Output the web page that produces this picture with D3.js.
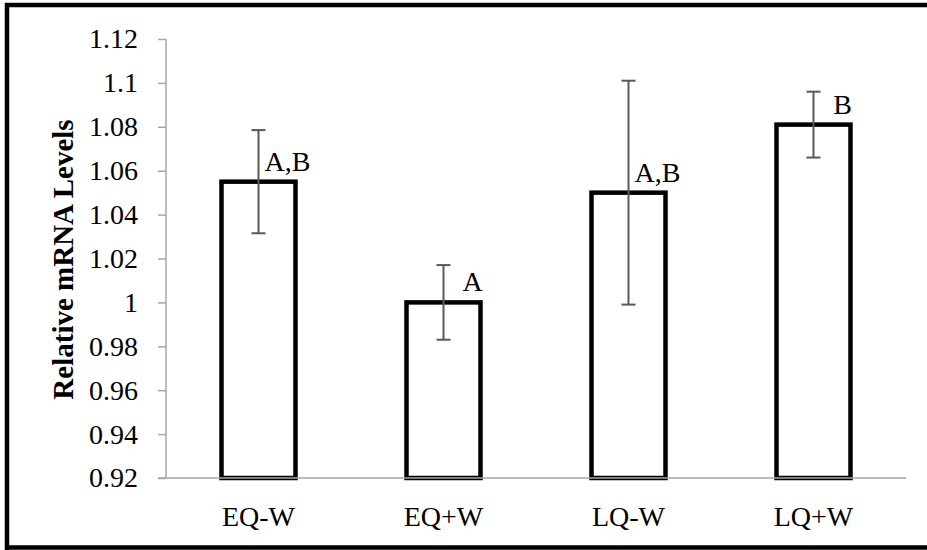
<!DOCTYPE html>
<html>
<head>
<meta charset="utf-8">
<script src="https://cdn.jsdelivr.net/npm/d3@7"></script>
<style>
  html, body { margin: 0; padding: 0; background: #fff; }
  svg { display: block; font-family: "Liberation Serif", "Times New Roman", serif; }
</style>
</head>
<body>
<svg id="chart" width="927" height="550"></svg>
<script>
// Relative mRNA levels per treatment group, with error and significance letters
const groups = ["EQ-W", "EQ+W", "LQ-W", "LQ+W"];
const means = [1.055, 1.000, 1.050, 1.081];
const errors = [0.0235, 0.017, 0.051, 0.015];
const letters = ["A,B", "A", "A,B", "B"];
const yTicks = [0.92, 0.94, 0.96, 0.98, 1.00, 1.02, 1.04, 1.06, 1.08, 1.10, 1.12];

const svg = d3.select("#chart");
const W = 927, H = 550;
const margin = { left: 166, right: 21, top: 39, bottom: 72 };
const serif = "Liberation Serif, Times New Roman, serif";
const fs = 28;

// Frame around the figure (left, top and bottom edges)
svg.append("g")
  .attr("stroke", "#000")
  .attr("stroke-width", 4.5)
  .call(g => {
    g.append("line").attr("x1", 7).attr("x2", 7).attr("y1", 3).attr("y2", 550);
    g.append("line").attr("x1", 5).attr("x2", 927).attr("y1", 5).attr("y2", 5);
    g.append("line").attr("x1", 5).attr("x2", 927).attr("y1", 547.5).attr("y2", 547.5);
  });

const x = d3.scaleBand()
  .domain(groups)
  .range([margin.left, W - margin.right])
  .paddingInner(0.6)
  .paddingOuter(0.3);

const y = d3.scaleLinear()
  .domain([0.92, 1.12])
  .range([H - margin.bottom, margin.top]);

// Bars: white fill with heavy black outline
svg.append("g")
  .selectAll("rect")
  .data(groups)
  .join("rect")
  .attr("x", d => x(d))
  .attr("width", x.bandwidth())
  .attr("y", (d, i) => y(means[i]))
  .attr("height", (d, i) => y(0.92) - y(means[i]))
  .attr("fill", "#fff")
  .attr("stroke", "#000")
  .attr("stroke-width", 4.5);

// Y axis
const yAxis = svg.append("g")
  .attr("transform", `translate(${margin.left},0)`)
  .call(d3.axisLeft(y)
    .tickValues(yTicks)
    .tickSize(8)
    .tickPadding(20)
    .tickFormat(d => d3.format("")(+d.toFixed(2))));
yAxis.attr("font-size", fs).attr("font-family", serif);
yAxis.select(".domain").attr("stroke", "#a6a6a6").attr("stroke-width", 1.5)
  .attr("d", `M0,${y(1.12)}V${y(0.92)}`);
yAxis.selectAll(".tick line").attr("stroke", "#a6a6a6").attr("stroke-width", 1.5);
yAxis.selectAll(".tick text").attr("fill", "#000");

// X axis baseline and category labels
const xAxis = svg.append("g")
  .attr("transform", `translate(0,${y(0.92)})`)
  .call(d3.axisBottom(x).tickSize(0));
xAxis.attr("font-size", fs).attr("font-family", serif);
xAxis.select(".domain").attr("stroke", "#a6a6a6").attr("stroke-width", 1.5)
  .attr("d", `M${margin.left - 8},0H${W - margin.right}`);
xAxis.selectAll(".tick text")
  .attr("fill", "#000")
  .attr("y", 48)
  .attr("dy", 0);

// Error bars
const eb = svg.append("g")
  .attr("stroke", "#595959")
  .attr("stroke-width", 2);
groups.forEach((g, i) => {
  const cx = x(g) + x.bandwidth() / 2;
  const top = y(means[i] + errors[i]);
  const bot = y(means[i] - errors[i]);
  eb.append("line").attr("x1", cx).attr("x2", cx).attr("y1", top).attr("y2", bot);
  eb.append("line").attr("x1", cx - 7).attr("x2", cx + 7).attr("y1", top).attr("y2", top);
  eb.append("line").attr("x1", cx - 7).attr("x2", cx + 7).attr("y1", bot).attr("y2", bot);
});

// Significance letters
svg.append("g")
  .attr("font-family", serif)
  .attr("font-size", fs)
  .selectAll("text")
  .data(groups)
  .join("text")
  .attr("x", d => x(d) + x.bandwidth() / 2 + 29)
  .attr("y", (d, i) => y(means[i]) - 11)
  .attr("text-anchor", "middle")
  .attr("fill", "#000")
  .text((d, i) => letters[i]);

// Y axis title
svg.append("text")
  .attr("transform", `translate(73,${(y(0.92) + y(1.12)) / 2 + 1}) rotate(-90)`)
  .attr("text-anchor", "middle")
  .attr("font-family", serif)
  .attr("font-size", 29)
  .attr("font-weight", "bold")
  .attr("fill", "#000")
  .text("Relative mRNA Levels");
</script>
</body>
</html>
